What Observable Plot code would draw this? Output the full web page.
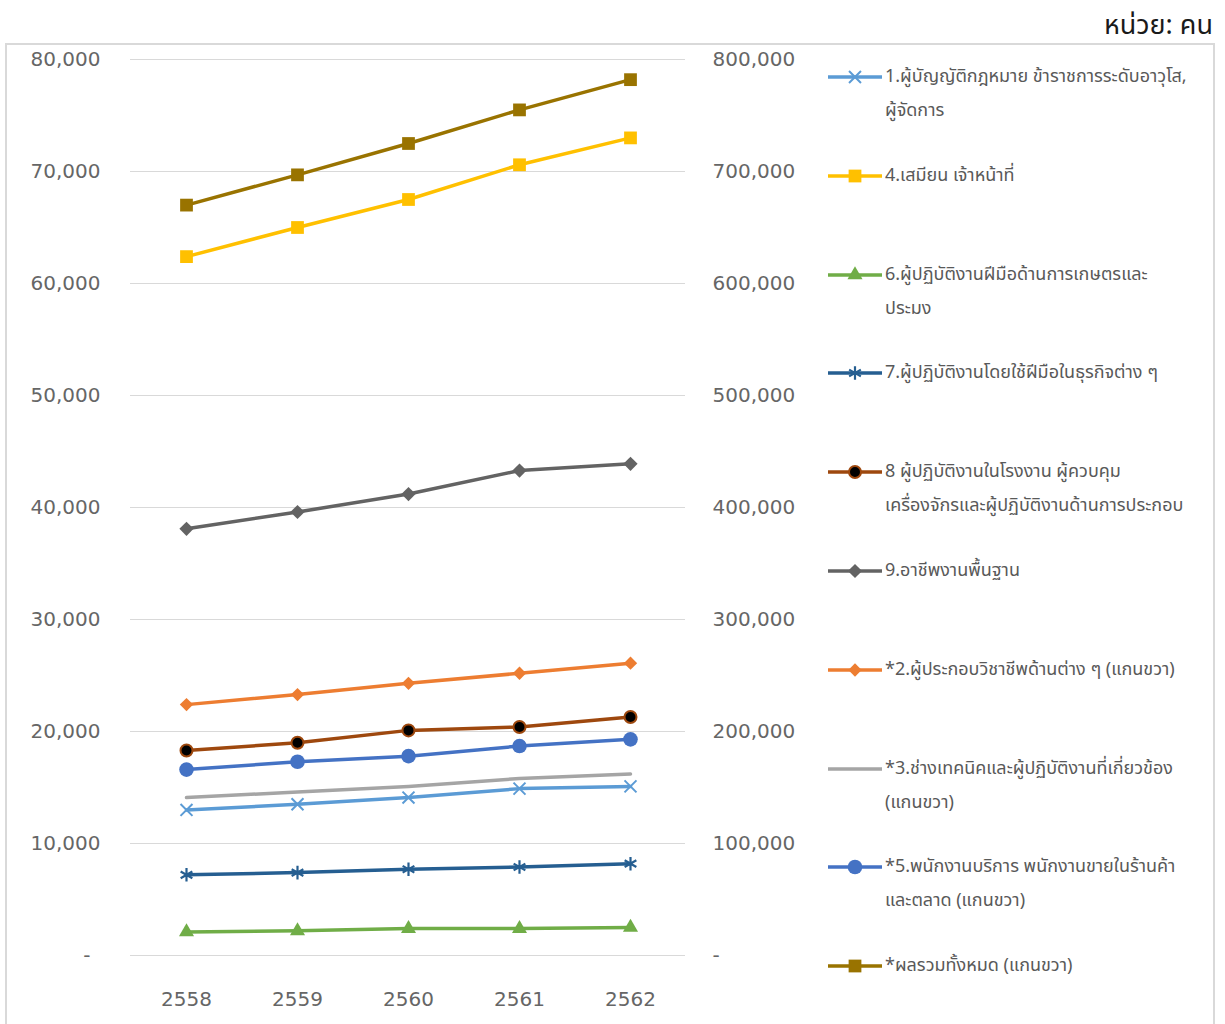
<!DOCTYPE html>
<html><head><meta charset="utf-8">
<script src="https://cdn.jsdelivr.net/npm/d3@7"></script>
<script src="https://cdn.jsdelivr.net/npm/@observablehq/plot@0.6"></script>
<style>
body{margin:0;background:#fff;width:1225px;height:1024px;overflow:hidden;position:relative;font-family:"DejaVu Sans",sans-serif}
#unit{position:absolute;right:12px;top:5px;font-size:27px;color:#1a1a1a;font-family:"Noto Sans Thai","Loma","Tahoma","DejaVu Sans",sans-serif}
#frame{position:absolute;left:5px;top:43px;width:1210px;height:1000px;border:2px solid #d9d9d9;box-sizing:border-box}
#chart{position:absolute;left:0;top:0}
#legend{position:absolute;left:819px;top:0}
.item{position:absolute;left:0;display:flex;align-items:flex-start}
.item svg{flex:none}
.item span{white-space:pre;font-size:18px;line-height:34px;color:#595959;margin-left:1px;font-family:"Noto Sans Thai","Loma","Tahoma","DejaVu Sans",sans-serif}
</style></head>
<body>
<div id="unit">หน่วย: คน</div>
<div id="frame"><div id="chart"></div><div id="legend"></div></div>
<script>
// ---- data ----
const years = ["2558", "2559", "2560", "2561", "2562"];
const s1 = [13000, 13500, 14100, 14900, 15100];
const s4 = [62400, 65000, 67500, 70600, 73000];
const s6 = [2100, 2200, 2400, 2400, 2500];
const s7 = [7200, 7400, 7700, 7900, 8200];
const s8 = [18300, 19000, 20100, 20400, 21300];
const s9 = [38100, 39600, 41200, 43300, 43900];
const s2 = [224000, 233000, 243000, 252000, 261000];
const s3 = [141000, 146000, 151000, 158000, 162000];
const s5 = [166000, 173000, 178000, 187000, 193000];
const sTotal = [670000, 697000, 725000, 755000, 782000];

const seriesNames = [
  "1.ผู้บัญญัติกฎหมาย ข้าราชการระดับอาวุโส,\nผู้จัดการ",
  "4.เสมียน เจ้าหน้าที่",
  "6.ผู้ปฏิบัติงานฝีมือด้านการเกษตรและ\nประมง",
  "7.ผู้ปฏิบัติงานโดยใช้ฝีมือในธุรกิจต่าง ๆ",
  "8 ผู้ปฏิบัติงานในโรงงาน ผู้ควบคุม\nเครื่องจักรและผู้ปฏิบัติงานด้านการประกอบ",
  "9.อาชีพงานพื้นฐาน",
  "*2.ผู้ประกอบวิชาชีพด้านต่าง ๆ (แกนขวา)",
  "*3.ช่างเทคนิคและผู้ปฏิบัติงานที่เกี่ยวข้อง\n(แกนขวา)",
  "*5.พนักงานบริการ พนักงานขายในร้านค้า\nและตลาด (แกนขวา)",
  "*ผลรวมทั้งหมด (แกนขวา)"
];
const seriesValues = [s1, s4, s6, s7, s8, s9, s2, s3, s5, sTotal];
const seriesAxis = ["left", "left", "left", "left", "left", "left", "right", "right", "right", "right"];
const leftTicks = [0, 10000, 20000, 30000, 40000, 50000, 60000, 70000, 80000];
const RATIO = 10; // right axis = left axis × 10

// ---- styles ----
const styles = [
  {color: "#5B9BD5", symbol: "times", r: 5.5, fill: "none", stroke: "#5B9BD5", sw: 2},
  {color: "#FFC000", symbol: "square", r: 7.2, fill: "#FFC000", stroke: "none", sw: 0},
  {color: "#70AD47", symbol: "triangle", r: 5.6, fill: "#70AD47", stroke: "none", sw: 0},
  {color: "#255E91", symbol: "asterisk", r: 6.4, fill: "none", stroke: "#255E91", sw: 2.2},
  {color: "#9E480E", symbol: "circle", r: 6, fill: "#000", stroke: "#9E480E", sw: 2},
  {color: "#636363", symbol: "diamond2", r: 6.4, fill: "#636363", stroke: "none", sw: 0},
  {color: "#ED7D31", symbol: "diamond2", r: 6, fill: "#ED7D31", stroke: "none", sw: 0},
  {color: "#A5A5A5", symbol: null},
  {color: "#4472C4", symbol: "circle", r: 7.3, fill: "#4472C4", stroke: "none", sw: 0},
  {color: "#997300", symbol: "square", r: 7.2, fill: "#997300", stroke: "none", sw: 0}
];

const rows = seriesValues.map((vals, k) => vals.map((v, i) => ({
  k, year: years[i], value: v, axis: seriesAxis[k]
})));
const yOf = d => d.axis === "right" ? d.value / RATIO : d.value;
const fmt = d3.format(",");

const marks = [
  Plot.ruleY(leftTicks, {stroke: "#d9d9d9", strokeWidth: 1.2}),
  Plot.axisY(leftTicks.filter(t => t !== 0), {anchor: "left", tickSize: 0, tickPadding: 30, tickFormat: fmt, fill: "#666", fontSize: 20, label: null}),
  Plot.axisY([0], {anchor: "left", tickSize: 0, tickPadding: 40, tickFormat: () => "-", fill: "#666", fontSize: 20, label: null}),
  Plot.axisY(leftTicks, {anchor: "right", tickSize: 0, tickPadding: 27, tickFormat: d => d === 0 ? "-" : fmt(d * RATIO), fill: "#666", fontSize: 20, label: null}),
  Plot.axisX({tickSize: 0, tickPadding: 36, fill: "#666", fontSize: 20, label: null})
];
rows.forEach((data, k) => {
  const s = styles[k];
  marks.push(Plot.line(data, {x: "year", y: yOf, stroke: s.color, strokeWidth: 3.5}));
  if (s.symbol) marks.push(Plot.dot(data, {x: "year", y: yOf, symbol: () => s.symbol, r: s.r, fill: s.fill, stroke: s.stroke, strokeWidth: s.sw}));
});

const chart = Plot.plot({
  width: 798, height: 980,
  marginLeft: 123, marginRight: 120, marginTop: 14, marginBottom: 70,
  x: {type: "point", domain: years, padding: 0.5, label: null},
  y: {domain: [0, 80000], label: null},
  symbol: {type: "identity"},
  style: {fontFamily: "DejaVu Sans", fontSize: "20px", background: "transparent", overflow: "visible"},
  marks
});
document.getElementById("chart").appendChild(chart);

// ---- legend ----
const legend = d3.select("#legend");
seriesNames.forEach((name, k) => {
  const s = styles[k];
  const item = legend.append("div").attr("class", "item").style("top", (15 + k * 98.8) + "px");
  const svg = item.append("svg").attr("width", 58).attr("height", 34);
  svg.append("line").attr("x1", 2).attr("x2", 56).attr("y1", 17).attr("y2", 17).attr("stroke", s.color).attr("stroke-width", 3.5);
  if (s.symbol) {
    const symMap = {times: d3.symbolTimes, square: d3.symbolSquare, triangle: d3.symbolTriangle, asterisk: d3.symbolAsterisk, circle: d3.symbolCircle, diamond2: d3.symbolDiamond2};
    svg.append("path").attr("transform", "translate(29,17)")
      .attr("d", d3.symbol(symMap[s.symbol], Math.PI * s.r * s.r)())
      .attr("fill", s.fill).attr("stroke", s.stroke).attr("stroke-width", s.sw);
  }
  item.append("span").text(name);
});
</script>
</body></html>
